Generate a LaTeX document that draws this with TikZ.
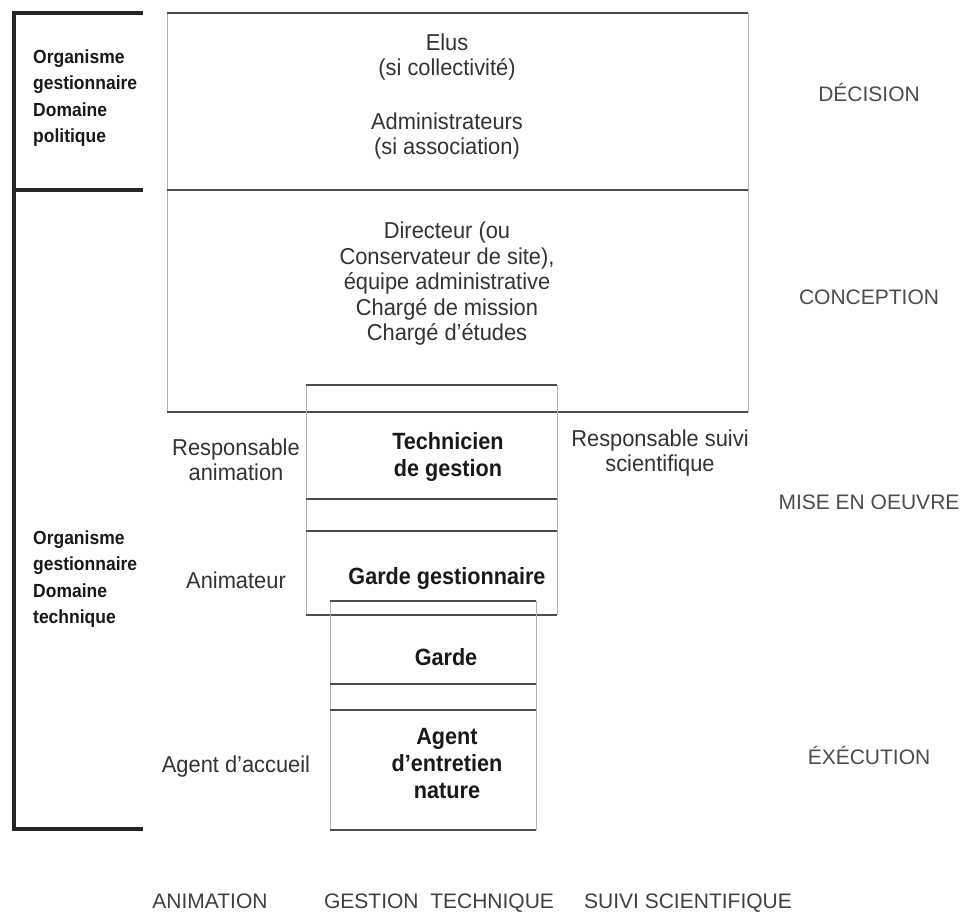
\documentclass[tikz,border=0pt]{standalone}
\usepackage{fontspec}
\setmainfont{Liberation Sans}[FakeStretch=0.95]
\newfontfamily\widecond{Liberation Sans}[FakeStretch=0.92]
\newfontfamily\capsfont{Liberation Sans}

\begin{document}
\begin{tikzpicture}[x=1pt, y=-1pt,
    bar/.style={line width=3.5pt, black!85, line cap=rect},
    rule/.style={line width=2.2pt, black!70},
    side/.style={line width=0.8pt, black!30},
    txt/.style={align=center, text=black!80, font=\fontsize{23}{25.5}\selectfont},
    role/.style={align=center, text=black!90, font=\widecond\fontsize{23.5}{27}\selectfont\bfseries},
    domtext/.style={align=left, anchor=west, inner sep=0pt, text=black!90,
                   font=\widecond\fontsize{19}{26.5}\selectfont\bfseries},
    phase/.style={text=black!70, font=\capsfont\fontsize{21}{22}\selectfont},
    field/.style={anchor=base, inner sep=0pt, text=black!75,
                  font=\capsfont\fontsize{21}{22}\selectfont}]
    \useasboundingbox (0,0) rectangle (962,912);

    % Left brackets
    \draw[bar] (14,13) -- (14,829);
    \foreach \y in {13,190,829}
        \draw[bar] (14,\y) -- (141,\y);
    \node[domtext] (dompol) at (33,98) {Organisme\\gestionnaire\\Domaine\\politique};
    \node[domtext] (domtech) at (33,579) {Organisme\\gestionnaire\\Domaine\\technique};

    % Decision and conception boxes
    \draw[side] (167,13) -- (167,412) (748,13) -- (748,412);
    \foreach \y in {13,190,412}
        \draw[rule] (167,\y) -- (748,\y);
    \node[txt] (elus) at (447,57) {Elus\\(si collectivité)};
    \node[txt] (admin) at (447,136) {Administrateurs\\(si association)};
    \node[txt] (dir) at (447,284) {Directeur (ou\\Conservateur de site),\\équipe administrative\\Chargé de mission\\Chargé d’études};

    % Technicien box
    \draw[side] (306,385) -- (306,615) (557,385) -- (557,615);
    \foreach \y in {385,499,531,615}
        \draw[rule] (306,\y) -- (557,\y);
    \node[role] (tech) at (448,457) {Technicien\\de gestion};
    \node[role] (gardeg) at (447,578) {Garde gestionnaire};

    % Garde box
    \draw[side] (330,601) -- (330,830) (536,601) -- (536,830);
    \foreach \y in {601,684,710,830}
        \draw[rule] (330,\y) -- (536,\y);
    \node[role] (garde) at (446,657) {Garde};
    \node[role] (agent) at (447,764) {Agent\\d’entretien\\nature};

    % Side roles
    \node[txt] (respanim) at (236,460) {Responsable\\animation};
    \node[txt] (anim) at (236,580) {Animateur};
    \node[txt] (accueil) at (236,767) {Agent d’accueil};
    \node[txt] (respsuivi) at (660,453) {Responsable suivi\\scientifique};

    % Levels
    \node[phase] (decision) at (869,92) {DÉCISION};
    \node[phase] (conception) at (869,297) {CONCEPTION};
    \node[phase] (miseoeuvre) at (869,502) {MISE EN OEUVRE};
    \node[phase] (execution) at (869,755) {ÉXÉCUTION};

    % Fields
    \node[field] (fanim) at (210,908) {ANIMATION};
    \node[field] (fgestion) at (439,908) {GESTION\ \ TECHNIQUE};
    \node[field] (fsuivi) at (688,908) {SUIVI SCIENTIFIQUE};
\end{tikzpicture}
\end{document}
